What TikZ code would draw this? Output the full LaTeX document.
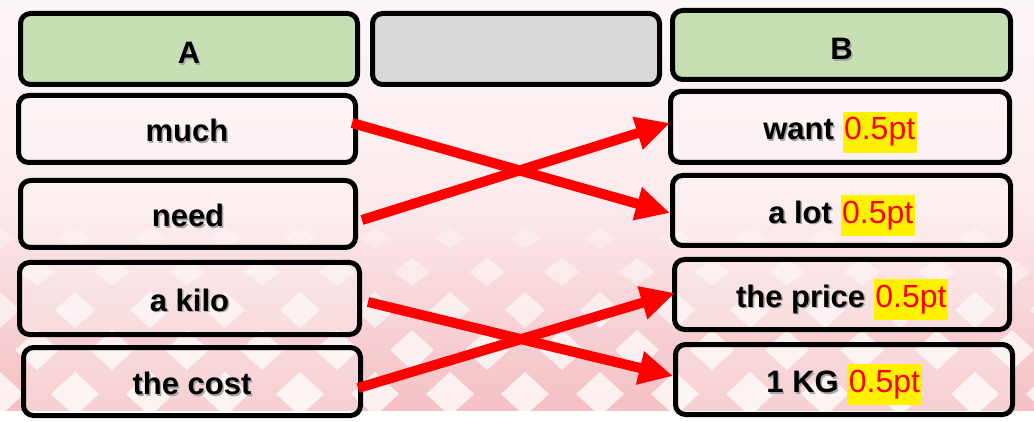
\documentclass[tikz,border=0pt]{standalone}
\usepackage{fontspec}
\setmainfont{Liberation Sans}
\usetikzlibrary{arrows.meta}
\definecolor{hdrgreen}{HTML}{C5E0B4}
\definecolor{hdrgray}{HTML}{D9D9D9}
\definecolor{bgtop}{HTML}{FDF6F7}
\definecolor{bgmid}{HTML}{FBEAEC}
\definecolor{bgbot}{HTML}{F4C0C4}
\newcommand\hlval{{\fontsize{32}{38}\selectfont\mdseries\setlength{\fboxsep}{1.5pt}\colorbox{yellow}{\strut\textcolor{red}{0.5pt}}}}
\newcommand\shtxt[1]{\makebox[0pt][l]{\kern1.5pt\raisebox{-1.5pt}{\textcolor{black!35}{#1}}}#1}
\begin{document}
\begin{tikzpicture}[x=1pt,y=-1pt,
  box/.style={draw=black, line width=5pt, rounded corners=10pt, inner sep=0pt,
    font=\fontsize{31}{36}\selectfont\bfseries, text=black, text height=31pt, text depth=1pt},
  cell/.style={box, fill=white, fill opacity=0.25, text opacity=1, text height=27pt, text depth=1pt},
  arr/.style={draw=red, line width=10pt, -{Triangle[length=34pt,width=32pt]}}]
\useasboundingbox (0,0) rectangle (1034,422);
% background
\shade[top color=bgtop, bottom color=bgmid] (0,0) rectangle (1034,200);
\shade[top color=bgmid, bottom color=bgbot] (0,200) rectangle (1034,411);
\begin{scope}
\clip (0,0) rectangle (1034,411);
\foreach \i in {0,...,14} {
  \fill[white, opacity=0.3] (\i*75, 228) -- ++(16,10) -- ++(-16,10) -- ++(-16,-10) -- cycle;
  \fill[white, opacity=0.45] (\i*75+37, 258) -- ++(18,14) -- ++(-18,14) -- ++(-18,-14) -- cycle;
  \fill[white, opacity=0.6] (\i*75, 292) -- ++(20,18) -- ++(-20,18) -- ++(-20,-18) -- cycle;
  \fill[white, opacity=0.7] (\i*75+37, 330) -- ++(22,20) -- ++(-22,20) -- ++(-22,-20) -- cycle;
  \fill[white, opacity=0.75] (\i*75, 372) -- ++(24,22) -- ++(-24,22) -- ++(-24,-22) -- cycle;
}
\end{scope}
\fill[white] (0,411) rectangle (1034,422);
% headers
\node[box, fill=hdrgreen, minimum width=337pt, minimum height=71pt] (hA) at (189,49) {\shtxt{A}};
\node[box, fill=hdrgray, minimum width=287pt, minimum height=71pt] (hG) at (516,49) {};
\node[box, fill=hdrgreen, minimum width=338pt, minimum height=69pt] (hB) at (841.5,45) {\shtxt{B}};
% left column
\node[cell, minimum width=337pt, minimum height=67pt] (much) at (187,129) {\shtxt{much}};
\node[cell, minimum width=335pt, minimum height=67pt] (need) at (188,214) {\shtxt{need}};
\node[cell, minimum width=340pt, minimum height=72pt] (kilo) at (189.5,298.5) {\shtxt{a kilo}};
\node[cell, minimum width=337pt, minimum height=68pt] (cost) at (192,381.5) {\shtxt{the cost}};
% right column
\node[cell, minimum width=339pt, minimum height=71pt] (want) at (840,127) {\shtxt{want} \hlval};
\node[cell, minimum width=338pt, minimum height=70pt] (alot) at (841.5,210.5) {\shtxt{a lot} \hlval};
\node[cell, minimum width=335pt, minimum height=70pt] (price) at (842,294.5) {\shtxt{the price} \hlval};
\node[cell, minimum width=337pt, minimum height=70pt] (kg) at (844,379.5) {\shtxt{1 KG} \hlval};
% arrows
\draw[arr] ([xshift=-6pt,yshift=6pt]much.east) -- ([yshift=-2.5pt]alot.west);
\draw[arr] ([xshift=4pt,yshift=-6pt]need.east) -- ([xshift=2pt,yshift=4pt]want.west);
\draw[arr] ([xshift=6pt,yshift=-3.5pt]kilo.east) -- ([yshift=3.5pt]kg.west);
\draw[arr] ([xshift=-5pt,yshift=-6.5pt]cost.east) -- ([xshift=3pt,yshift=1.5pt]price.west);
\end{tikzpicture}
\end{document}
